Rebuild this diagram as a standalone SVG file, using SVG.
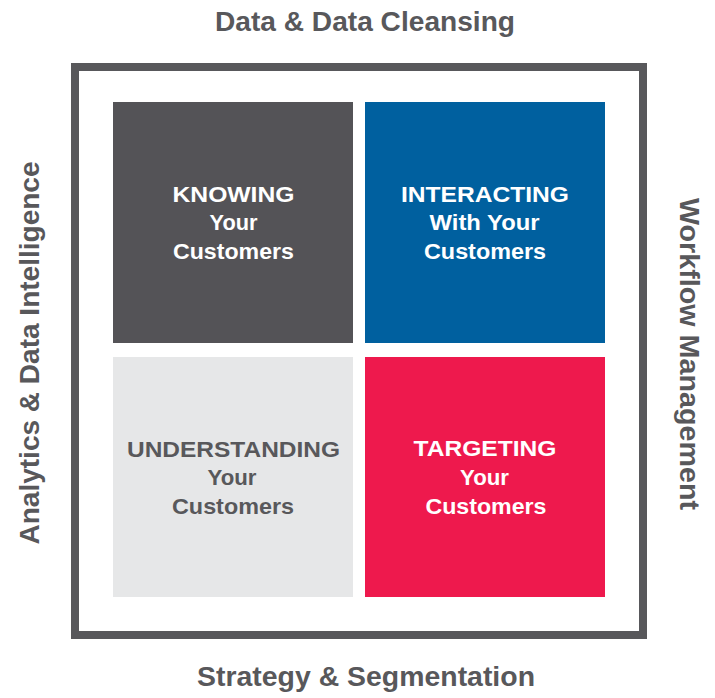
<svg xmlns="http://www.w3.org/2000/svg" width="715" height="698" viewBox="0 0 715 698">
<style>
.lbl{font-family:"Liberation Sans",Arial,sans-serif;font-weight:bold;font-size:28.5px;fill:#58585b;text-anchor:middle}
.t{font-family:"Liberation Sans",Arial,sans-serif;font-weight:bold;font-size:22.5px;text-anchor:middle}
.w{fill:#ffffff}
.g{fill:#58585b}
</style>
<rect width="715" height="698" fill="#ffffff"/>
<g id="frame">
<rect x="75" y="67" width="568" height="568" fill="none" stroke="#58585b" stroke-width="8"/>
</g>
<g id="labels">
<text class="lbl" x="365" y="31" textLength="300" lengthAdjust="spacingAndGlyphs">Data &amp; Data Cleansing</text>
<text class="lbl" x="366" y="686" textLength="338" lengthAdjust="spacingAndGlyphs">Strategy &amp; Segmentation</text>
<text class="lbl" transform="translate(39,353) rotate(-90)" textLength="383" lengthAdjust="spacingAndGlyphs">Analytics &amp; Data Intelligence</text>
<text class="lbl" transform="translate(680,354) rotate(90)" textLength="312" lengthAdjust="spacingAndGlyphs">Workflow Management</text>
</g>
<g id="knowing">
<rect x="113" y="102" width="240" height="241" fill="#545357"/>
<text class="t w" x="233.5" y="202" textLength="122" lengthAdjust="spacingAndGlyphs">KNOWING</text>
<text class="t w" x="233.5" y="230" textLength="48" lengthAdjust="spacingAndGlyphs">Your</text>
<text class="t w" x="233.5" y="259" textLength="121" lengthAdjust="spacingAndGlyphs">Customers</text>
</g>
<g id="interacting">
<rect x="365" y="102" width="240" height="241" fill="#00609f"/>
<text class="t w" x="485" y="202" textLength="168" lengthAdjust="spacingAndGlyphs">INTERACTING</text>
<text class="t w" x="484.5" y="230" textLength="110" lengthAdjust="spacingAndGlyphs">With Your</text>
<text class="t w" x="485" y="259" textLength="122" lengthAdjust="spacingAndGlyphs">Customers</text>
</g>
<g id="understanding">
<rect x="113" y="357" width="240" height="240" fill="#e6e7e8"/>
<text class="t g" x="233.5" y="457" textLength="213" lengthAdjust="spacingAndGlyphs">UNDERSTANDING</text>
<text class="t g" x="232" y="485" textLength="49" lengthAdjust="spacingAndGlyphs">Your</text>
<text class="t g" x="233" y="514" textLength="122" lengthAdjust="spacingAndGlyphs">Customers</text>
</g>
<g id="targeting">
<rect x="365" y="357" width="240" height="240" fill="#ee194d"/>
<text class="t w" x="485" y="456" textLength="143" lengthAdjust="spacingAndGlyphs">TARGETING</text>
<text class="t w" x="484.5" y="485" textLength="49" lengthAdjust="spacingAndGlyphs">Your</text>
<text class="t w" x="486" y="514" textLength="121" lengthAdjust="spacingAndGlyphs">Customers</text>
</g>
<g id="connectors"></g>
</svg>
